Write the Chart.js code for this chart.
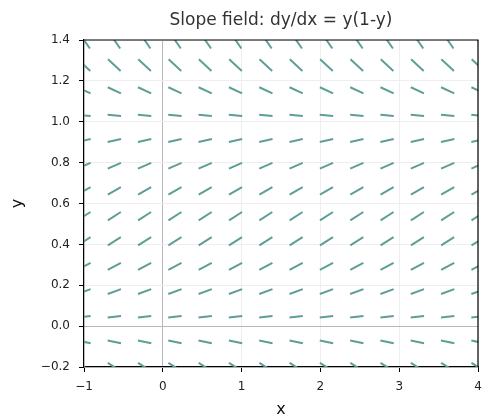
<!DOCTYPE html>
<html>
<head>
<meta charset="utf-8">
<script src="https://cdn.jsdelivr.net/npm/chart.js@4"></script>
<style>
  html, body { margin: 0; padding: 0; background: #fff; }
  #wrap { width: 484px; height: 418px; }
</style>
</head>
<body>
<div id="wrap"><canvas id="grafico"></canvas></div>
<script>
// grid of the slope field (x columns, y rows)
const xGrid = [-1, -0.615, -0.231, 0.154, 0.538, 0.923, 1.308, 1.692, 2.077, 2.462, 2.846, 3.231, 3.615, 4];
const yGrid = [-0.2, -0.077, 0.046, 0.169, 0.292, 0.415, 0.538, 0.662, 0.785, 0.908, 1.031, 1.154, 1.277, 1.4];
// slope dy/dx = y(1-y) at each row
const slopes = [-0.24, -0.083, 0.044, 0.141, 0.207, 0.243, 0.249, 0.224, 0.169, 0.084, -0.032, -0.178, -0.354, -0.56];
const xTicks = [-1, 0, 1, 2, 3, 4];
const yTicks = [-0.2, 0, 0.2, 0.4, 0.6, 0.8, 1.0, 1.2, 1.4];

const segLen = 0.17; // length of each mark in data units

// build one line dataset, segments separated by gaps
const puntos = [];
yGrid.forEach((y, i) => {
    const s = slopes[i];
    const dx = segLen / 2 / Math.sqrt(1 + s * s);
    const dy = s * dx;
    xGrid.forEach(x => {
        puntos.push({ x: x - dx, y: y - dy });
        puntos.push({ x: x + dx, y: y + dy });
        puntos.push({ x: x, y: null });
    });
});

const menos = t => t.replace('-', '\u2212');
const esCero = v => Math.abs(v) < 1e-9;

// title over the plot area + top/right spines
const extras = {
    id: 'extras',
    afterDraw(chart) {
        const { ctx, chartArea } = chart;
        ctx.save();
        ctx.strokeStyle = '#000';
        ctx.lineWidth = 1.2;
        ctx.beginPath();
        ctx.moveTo(chartArea.left, chartArea.top);
        ctx.lineTo(chartArea.right, chartArea.top);
        ctx.lineTo(chartArea.right, chartArea.bottom);
        ctx.stroke();
        ctx.fillStyle = '#333';
        ctx.font = '17px "DejaVu Sans"';
        ctx.textAlign = 'center';
        ctx.textBaseline = 'middle';
        ctx.fillText('Slope field: dy/dx = y(1-y)', (chartArea.left + chartArea.right) / 2, 21);
        ctx.restore();
    }
};

const ctx = document.getElementById('grafico').getContext('2d');
new Chart(ctx, {
    type: 'scatter',
    data: {
        datasets: [{
            data: puntos,
            showLine: true,
            spanGaps: false,
            pointRadius: 0,
            borderColor: '#5f9e98',
            borderWidth: 2,
            borderCapStyle: 'butt'
        }]
    },
    options: {
        responsive: true,
        maintainAspectRatio: false,
        animation: false,
        layout: { padding: { top: 40, right: 6, left: 0, bottom: 0 } },
        plugins: {
            legend: { display: false },
            tooltip: { enabled: false }
        },
        scales: {
            x: {
                type: 'linear',
                min: -1, max: 4,
                afterBuildTicks: s => { s.ticks = xTicks.map(v => ({ value: v })); },
                afterFit: s => { s.height = 51; s.paddingLeft = 0; s.paddingRight = 0; },
                border: { color: '#000', width: 1.2 },
                grid: {
                    color: c => (c.tick && esCero(c.tick.value)) ? '#b8b8b8' : '#eeeeee',
                    lineWidth: 1,
                    tickColor: '#000',
                    tickLength: 5
                },
                ticks: {
                    color: '#222',
                    font: { family: 'DejaVu Sans', size: 12 },
                    padding: 8,
                    maxRotation: 0,
                    callback: v => menos(String(v))
                },
                title: {
                    display: true,
                    text: 'x',
                    color: '#111',
                    font: { family: 'DejaVu Sans', size: 16, lineHeight: 1 },
                    padding: { top: 0, bottom: 0 }
                }
            },
            y: {
                type: 'linear',
                min: -0.2, max: 1.4,
                afterBuildTicks: s => { s.ticks = yTicks.map(v => ({ value: v })); },
                afterFit: s => { s.width = 84; s.paddingTop = 0; s.paddingBottom = 0; },
                border: { color: '#000', width: 1.2 },
                grid: {
                    color: c => (c.tick && esCero(c.tick.value)) ? '#b8b8b8' : '#eeeeee',
                    lineWidth: 1,
                    tickColor: '#000',
                    tickLength: 5
                },
                ticks: {
                    color: '#222',
                    font: { family: 'DejaVu Sans', size: 12 },
                    padding: 9,
                    callback: v => esCero(v) ? '0.0' : menos(v.toFixed(1))
                },
                title: {
                    display: true,
                    text: 'y',
                    color: '#111',
                    font: { family: 'DejaVu Sans', size: 16, lineHeight: 1.2 },
                    padding: { top: 8, bottom: 0 }
                }
            }
        }
    },
    plugins: [extras]
});
</script>
</body>
</html>
